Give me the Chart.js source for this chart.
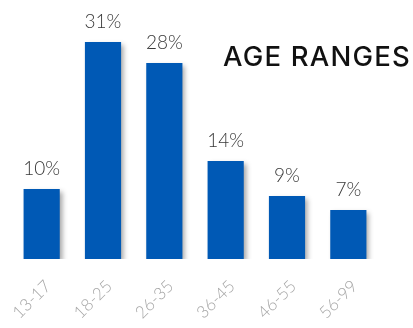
<!DOCTYPE html>
<html>
<head>
<meta charset="utf-8">
<script src="https://cdn.jsdelivr.net/npm/chart.js@4"></script>
<style>
  html, body { margin: 0; padding: 0; background: #fff; }
  #wrap { position: relative; width: 413px; height: 328px; overflow: hidden; }
  #title {
    position: absolute; left: 223px; top: 39px;
    font-family: Inter, "Noto Sans", sans-serif; font-weight: 500;
    font-size: 27.5px; color: #111; letter-spacing: 1.2px; white-space: nowrap;
  }
  #xlabels { position: absolute; left: 0; top: 0; pointer-events: none; }
  #xlabels text {
    font-family: Lato, "Open Sans", sans-serif; font-weight: 300;
    font-size: 17px; fill: #a6a6a6;
  }
</style>
</head>
<body>
<div id="wrap">
  <canvas id="ageChart" width="413" height="328"></canvas>
  <div id="title">AGE RANGES</div>
  <svg id="xlabels" width="413" height="328" xmlns="http://www.w3.org/2000/svg"></svg>
</div>
<script>
// age groups and their shares (%)
const ageLabels = ["13-17", "18-25", "26-35", "36-45", "46-55", "56-99"];
const ageShares = [10, 31, 28, 14, 9, 7];

document.addEventListener("DOMContentLoaded", function () {
    const ctx = document.getElementById("ageChart").getContext("2d");
    const svg = document.getElementById("xlabels");

    // soft drop shadow behind the bars
    const barShadow = {
        id: "barShadow",
        beforeDatasetsDraw(chart) {
            const c = chart.ctx;
            c.save();
            c.shadowColor = "rgba(0,0,0,0.35)";
            c.shadowBlur = 5;
            c.shadowOffsetX = 3;
            c.shadowOffsetY = 3;
        },
        afterDatasetsDraw(chart) {
            chart.ctx.restore();
        }
    };

    // percentage text above every bar
    const valueLabels = {
        id: "valueLabels",
        afterDatasetsDraw(chart) {
            const c = chart.ctx;
            const meta = chart.getDatasetMeta(0);
            c.save();
            c.font = "300 19px Lato, 'Open Sans', sans-serif";
            c.fillStyle = "#383838";
            c.textAlign = "center";
            c.textBaseline = "alphabetic";
            meta.data.forEach((bar, i) => {
                c.fillText(ageShares[i] + "%", bar.x, bar.y - 14);
            });
            c.restore();
        }
    };

    const chart = new Chart(ctx, {
        type: "bar",
        data: {
            labels: ageLabels,
            datasets: [{
                data: ageShares,
                backgroundColor: "#0059b5",
                borderWidth: 0,
                categoryPercentage: 1,
                barPercentage: 0.59
            }]
        },
        options: {
            responsive: false,
            animation: false,
            layout: { padding: { left: 11, right: 34, top: 0, bottom: 0 } },
            plugins: {
                legend: { display: false },
                tooltip: { enabled: false }
            },
            scales: {
                x: {
                    grid: { display: false },
                    border: { display: false },
                    ticks: { display: false },
                    afterFit: s => { s.height = 69; }
                },
                y: {
                    display: false,
                    min: 0,
                    max: 37
                }
            }
        },
        plugins: [barShadow, valueLabels]
    });

    // slanted category labels, placed from the x scale ticks
    const xs = chart.scales.x;
    const base = chart.chartArea.bottom;
    ageLabels.forEach((lab, i) => {
        const t = document.createElementNS("http://www.w3.org/2000/svg", "text");
        const ax = xs.getPixelForTick(i) + 6;
        const ay = base + 24;
        t.setAttribute("x", 0);
        t.setAttribute("y", 0);
        t.setAttribute("dy", "0.35em");
        t.setAttribute("text-anchor", "end");
        t.setAttribute("transform", "translate(" + ax + "," + ay + ") rotate(-45)");
        t.textContent = lab;
        svg.appendChild(t);
    });
});
</script>
</body>
</html>
